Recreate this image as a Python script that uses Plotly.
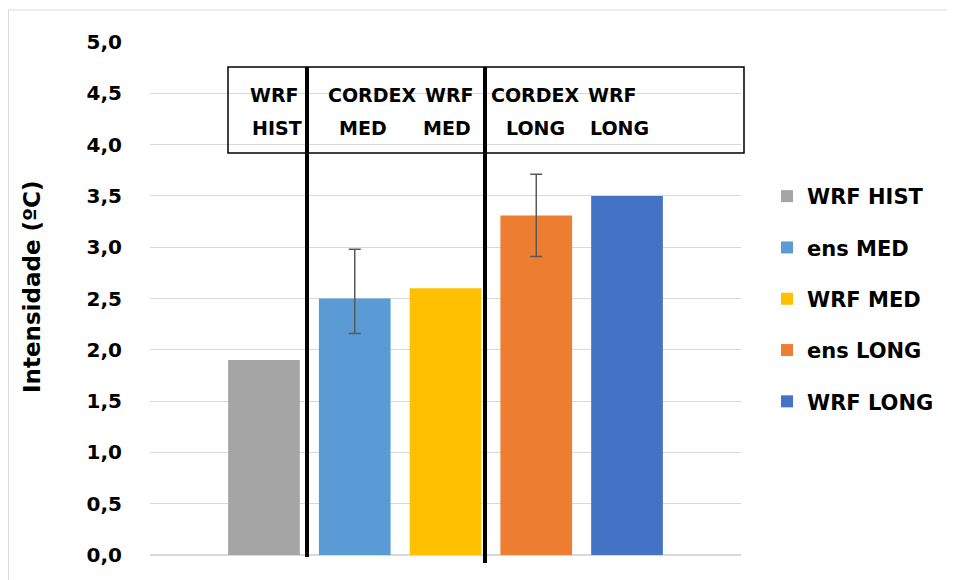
import plotly.graph_objects as go

series = ["WRF HIST", "ens MED", "WRF MED", "ens LONG", "WRF LONG"]
values = [1.9, 2.5, 2.6, 3.31, 3.5]
err_plus = [None, 0.48, None, 0.40, None]
err_minus = [None, 0.34, None, 0.40, None]
colors = ["#A5A5A5", "#5B9BD5", "#FFC000", "#ED7D31", "#4472C4"]
box_row1 = ["WRF", "CORDEX", "WRF", "CORDEX", "WRF"]
box_row2 = ["HIST", "MED", "MED", "LONG", "LONG"]
row1_x = [274, 372, 449, 535, 612]   # page pixel centres
row2_x = [277, 363, 447, 535, 619]

OFF = 8  # default body margin of the html page
W, H = 955 - OFF, 580 - OFF
PL, PR, PT, PB = 150, 741, 42, 555   # plot area in page pixels
L, T = PL - OFF, PT - OFF
pw, ph = PR - PL, PB - PT
R, B = W - L - pw, H - T - ph

def px(x):
    return (x - PL) / pw

def py(y):
    return (PB - y) / ph

FONT = "DejaVu Sans"

fig = go.Figure()
for i, (name, v, c) in enumerate(zip(series, values, colors)):
    kw = {}
    if err_plus[i] is not None:
        kw["error_y"] = dict(type="data", symmetric=False, array=[err_plus[i]],
                             arrayminus=[err_minus[i]], color="#595959",
                             thickness=1.5, width=6)
    fig.add_trace(go.Bar(x=[i], y=[v], name=name, marker_color=c, legendgroup=name,
                         marker_line_width=0, width=0.79, **kw))

shapes = [
    dict(type="rect", xref="paper", yref="paper", x0=px(228), x1=px(744),
         y0=py(153), y1=py(67), line=dict(color="black", width=1.5),
         fillcolor="rgba(0,0,0,0)"),
    dict(type="line", xref="paper", yref="paper", x0=px(307), x1=px(307),
         y0=py(67), y1=py(557), line=dict(color="black", width=4)),
    dict(type="line", xref="paper", yref="paper", x0=px(485), x1=px(485),
         y0=py(67), y1=py(563), line=dict(color="black", width=4)),
    dict(type="rect", xref="paper", yref="paper", x0=px(8.5), x1=px(960),
         y0=py(600), y1=py(10), line=dict(color="#D9D9D9", width=1),
         fillcolor="rgba(0,0,0,0)", layer="below"),
]

box_font = dict(family=FONT, size=19, color="black", weight="bold")
annotations = []
for t, x in zip(box_row1, row1_x):
    annotations.append(dict(text=t, xref="paper", yref="paper", x=px(x), y=py(95),
                            showarrow=False, font=box_font, xanchor="center", yanchor="middle"))
for t, x in zip(box_row2, row2_x):
    annotations.append(dict(text=t, xref="paper", yref="paper", x=px(x), y=py(128),
                            showarrow=False, font=box_font, xanchor="center", yanchor="middle"))
annotations.append(dict(text="Intensidade (ºC)", xref="paper", yref="paper",
                        x=px(32), y=py(287), textangle=-90, showarrow=False,
                        xanchor="center", yanchor="middle",
                        font=dict(family=FONT, size=23, color="black", weight="bold")))

fig.update_layout(
    width=W, height=H,
    margin=dict(l=L, r=R, t=T, b=B),
    paper_bgcolor="white", plot_bgcolor="white",
    barmode="overlay",
    separators=",.",
    showlegend=True,
    legend=dict(x=px(767), y=py(176), xanchor="left", yanchor="top",
                font=dict(family=FONT, size=21, color="black", weight="bold"),
                tracegroupgap=21, bgcolor="rgba(0,0,0,0)"),
    xaxis=dict(range=[-1.256, 5.256], showticklabels=False, showgrid=False,
               zeroline=False, showline=False, fixedrange=True),
    yaxis=dict(range=[0, 5], dtick=0.5, tickformat=".1f", showgrid=True,
               gridcolor="#D9D9D9", gridwidth=1, zeroline=True,
               zerolinecolor="#D9D9D9", zerolinewidth=1.5,
               tickfont=dict(family=FONT, size=20, color="black", weight="bold"),
               ticklabelstandoff=27),
    shapes=shapes,
    annotations=annotations,
)

fig.write_html("out.html")
